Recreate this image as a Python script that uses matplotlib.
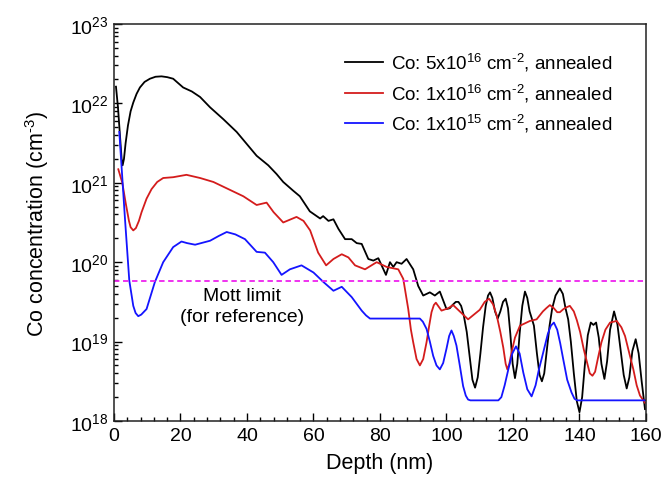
import numpy as np
import matplotlib
matplotlib.use('Agg')
import matplotlib.pyplot as plt
from matplotlib.ticker import MultipleLocator, LogLocator

matplotlib.rc('font', family='Liberation Sans', size=14)
matplotlib.rcParams['mathtext.fontset'] = 'custom'
matplotlib.rcParams['mathtext.rm'] = 'Liberation Sans'
matplotlib.rcParams['mathtext.it'] = 'Liberation Sans:italic'

# depth (nm) and log10 of Co concentration (cm^-3)
depth_5e16 = [0.6, 1.2, 1.8, 2.3, 2.6, 3.0, 3.5, 4.2, 5.0, 5.8, 6.8, 7.8, 9.2, 10.8, 12.5, 14.3,
              16.0, 17.8, 20.8, 23.4, 25.9, 28.9, 32.9, 36.9, 39.9, 42.9, 46.4, 48.9, 50.9, 53.9,
              55.9, 58.9, 62.0, 62.9, 64.5, 66.0, 67.5, 69.5, 71.5, 73.0, 74.5, 76.5, 78.0, 79.5,
              80.5, 81.8, 83.0, 84.0, 85.0, 86.5, 88.0, 90.0, 91.5, 93.0, 95.0, 96.5, 98.0,
              100.0, 101.0, 101.8, 102.8, 103.6, 104.4, 105.2, 106.1, 107.0, 107.8, 108.6, 109.4,
              110.2, 111.0, 111.8, 112.5, 113.1, 113.8, 114.6, 115.4, 116.2, 117.0, 117.8, 118.5,
              119.2, 119.9, 120.6, 121.3, 122.0, 122.8, 123.6, 124.3, 125.0, 125.6, 126.3, 127.2,
              128.0, 128.7, 129.4, 130.2, 131.0, 131.8, 132.8, 134.1, 135.0, 135.8, 136.6, 137.4,
              138.3, 139.2, 140.0, 140.8, 141.6, 142.5, 143.4, 144.2, 145.0, 145.8, 146.6, 147.5,
              148.3, 149.2, 150.4, 151.4, 152.3, 153.3, 154.2, 155.0, 155.9, 156.9, 157.8, 158.7,
              159.7]
log_5e16 = [22.21, 21.95, 21.60, 21.30, 21.22, 21.30, 21.50, 21.72, 21.90, 22.01, 22.12, 22.20,
            22.27, 22.31, 22.335, 22.34, 22.33, 22.31, 22.20, 22.15, 22.08, 21.95, 21.80, 21.64,
            21.49, 21.34, 21.22, 21.11, 21.01, 20.90, 20.83, 20.64, 20.55, 20.58, 20.52, 20.54,
            20.42, 20.29, 20.29, 20.24, 20.23, 20.04, 20.02, 20.05, 19.96, 19.84, 20.00, 19.94,
            20.00, 19.98, 20.04, 19.91, 19.70, 19.58, 19.62, 19.58, 19.63,
            19.41, 19.42, 19.46, 19.50, 19.50, 19.45, 19.33, 19.12, 18.80, 18.52, 18.42, 18.55,
            18.85, 19.18, 19.45, 19.58, 19.62, 19.55, 19.38, 19.29, 19.38, 19.50, 19.54, 19.42,
            19.10, 18.72, 18.54, 18.72, 19.10, 19.45, 19.63, 19.55, 19.38, 19.30, 19.20, 18.85,
            18.58, 18.50, 18.60, 18.90, 19.20, 19.42, 19.58, 19.67, 19.60, 19.42, 19.28, 19.00,
            18.60, 18.25, 18.11, 18.30, 18.70, 19.08, 19.24, 19.21, 19.24, 19.05, 18.72, 18.53,
            18.75, 19.15, 19.38, 19.22, 18.92, 18.58, 18.41, 18.55, 18.88, 19.03, 18.85, 18.50,
            18.15]

depth_1e16 = [1.3, 2.5, 3.5, 4.5, 5.0, 5.8, 6.6, 7.5, 8.3, 9.8, 11.3, 13.0, 14.8, 17.8, 21.8,
              25.9, 29.9, 33.9, 38.9, 42.9, 45.9, 48.0, 50.9, 54.9, 57.0, 59.0, 61.4, 63.8, 66.0,
              68.5, 70.5, 72.5, 75.5, 79.0, 82.0, 85.5, 87.0, 88.5, 89.3, 90.0, 91.0, 92.0, 93.0,
              94.0, 94.8, 95.5, 96.2, 96.8, 98.5, 100.5, 102.0, 104.0, 106.5, 110.0, 111.5, 112.8,
              114.0, 115.1, 116.2, 117.1, 117.8, 118.3, 118.9, 119.6, 120.6, 122.1, 125.1, 127.1,
              129.0, 130.0, 131.1, 132.3, 133.3, 134.1, 135.2, 136.0, 137.1, 138.3, 139.2, 140.2,
              141.3, 142.2, 143.1, 143.9, 144.7, 145.6, 146.6, 147.8, 149.2, 151.2, 152.6, 153.7,
              155.0, 156.2, 157.2, 158.2, 159.7]
log_1e16 = [21.17, 21.00, 20.75, 20.52, 20.44, 20.40, 20.43, 20.52, 20.63, 20.80, 20.92, 21.01,
            21.06, 21.07, 21.10, 21.06, 21.01, 20.93, 20.83, 20.72, 20.75, 20.63, 20.50, 20.57,
            20.52, 20.40, 20.12, 19.96, 20.04, 20.10, 20.06, 19.96, 19.91, 20.00, 19.94, 19.91,
            19.79, 19.41, 19.15, 18.99, 18.78, 18.70, 18.78, 18.99, 19.20, 19.37, 19.46, 19.49,
            19.39, 19.42, 19.46, 19.38, 19.28, 19.40, 19.50, 19.54, 19.47, 19.33, 19.12, 18.92,
            18.72, 18.65, 18.72, 18.87, 19.05, 19.20, 19.26, 19.28, 19.38, 19.42, 19.46, 19.42,
            19.37, 19.37, 19.41, 19.43, 19.45, 19.38, 19.27, 19.12, 18.90, 18.75, 18.60, 18.57,
            18.62, 18.80, 18.99, 19.15, 19.24, 19.26, 19.18, 19.07, 18.85, 18.65, 18.45, 18.32,
            18.23]

depth_1e15 = [1.6, 3.3, 4.6, 5.8, 6.5, 7.3, 8.2, 9.8, 12.3, 14.8, 17.8, 20.3, 22.0, 24.4, 28.9,
              31.5, 33.9, 36.5, 39.4, 42.9, 45.4, 47.9, 50.4, 52.9, 56.4, 60.0, 63.0, 66.0, 68.5,
              71.5, 74.5, 75.8, 77.0, 92.0, 92.9, 94.0, 95.0, 96.0, 97.0, 98.0, 99.0, 100.0, 100.8,
              101.5, 102.2, 103.0, 104.0, 105.0, 105.8, 106.5, 107.2, 115.6, 116.5, 117.5, 118.6,
              119.8, 120.9, 122.0, 123.1, 124.3, 125.6, 126.8, 127.8, 128.6, 130.5, 131.4, 132.3,
              133.3, 134.2, 135.1, 136.3, 137.6, 138.5, 139.3, 160.0]
log_1e15 = [21.64, 20.55, 19.77, 19.45, 19.36, 19.32, 19.34, 19.41, 19.75, 20.00, 20.19, 20.26,
            20.24, 20.22, 20.27, 20.33, 20.38, 20.35, 20.29, 20.13, 20.12, 20.00, 19.84, 19.91,
            19.96, 19.87, 19.75, 19.64, 19.69, 19.56, 19.39, 19.33, 19.29, 19.29, 19.25, 19.16,
            19.00, 18.82, 18.70, 18.65, 18.73, 18.91, 19.07, 19.14, 19.07, 18.95, 18.70, 18.44,
            18.32, 18.27, 18.26, 18.26, 18.30, 18.45, 18.65, 18.85, 18.94, 18.85, 18.61, 18.40,
            18.31, 18.45, 18.65, 18.78, 19.10, 19.20, 19.24, 19.15, 18.98, 18.78, 18.52, 18.36,
            18.28, 18.26, 18.26]

mott_limit = 5.8e19

labels = [r'Co: 5x10$^{16}$ cm$^{\text{-}2}$, annealed',
          r'Co: 1x10$^{16}$ cm$^{\text{-}2}$, annealed',
          r'Co: 1x10$^{15}$ cm$^{\text{-}2}$, annealed']
colors = ['#000000', '#d41c1c', '#1414ff']

fig = plt.figure(figsize=(6.65, 4.89), dpi=100)
ax = fig.add_axes([0.1714, 0.137, 0.80, 0.812])

series = [(depth_5e16, log_5e16), (depth_1e16, log_1e16), (depth_1e15, log_1e15)]
for (d, lg), c, lab in zip(series, colors, labels):
    ax.plot(d, 10 ** np.array(lg), color=c, lw=1.3, label=lab)

ax.axhline(mott_limit, color='#ee22ee', lw=1.3, ls=(0, (3, 2)))
ax.text(38.5, 2.8e19, 'Mott limit\n(for reference)', ha='center', va='center',
        fontsize=14, linespacing=1.25)

ax.set_yscale('log')
ax.set_xlim(0, 160)
ax.set_ylim(1e18, 1e23)
ax.xaxis.set_major_locator(MultipleLocator(20))
ax.xaxis.set_minor_locator(MultipleLocator(4))
ax.yaxis.set_major_locator(LogLocator(base=10, numticks=10))
ax.yaxis.set_minor_locator(LogLocator(base=10, subs=np.arange(2, 10), numticks=20))
ax.tick_params(which='both', direction='in', top=False, right=False, width=1.0)
ax.tick_params(which='major', length=6, labelsize=14, pad=4)
ax.tick_params(which='minor', length=3)
for s in ax.spines.values():
    s.set_linewidth(1.1)
    s.set_color('#222222')

ax.set_xlabel('Depth (nm)', fontsize=15.5, labelpad=6)
ax.set_ylabel('Co concentration (cm$^{\\text{-}3}$)', fontsize=15.5, labelpad=14)

ax.legend(loc='upper left', bbox_to_anchor=(0.4206, 0.95), frameon=False, fontsize=13.5,
          handlelength=2.0, handletextpad=0.45, labelspacing=0.45, borderaxespad=0)

plt.savefig('out.png', dpi=100)
